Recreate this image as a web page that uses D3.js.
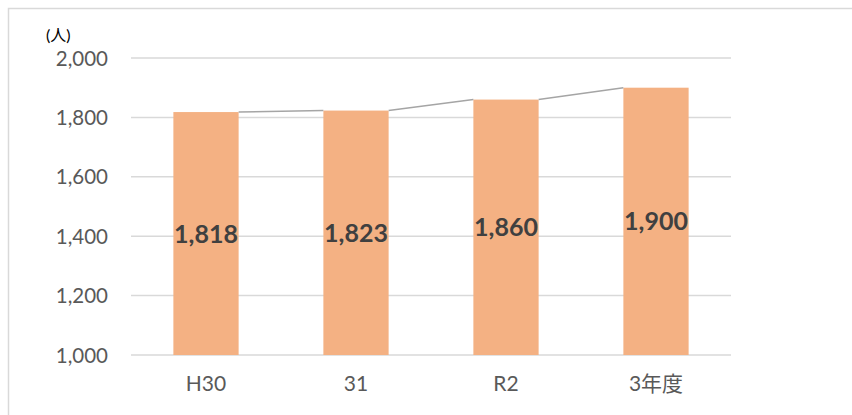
<!DOCTYPE html>
<html><head><meta charset="utf-8">
<script src="https://cdn.jsdelivr.net/npm/d3@7"></script>
<style>body{margin:0;background:#fff}svg{display:block}</style>
</head><body>
<svg id="c" width="852" height="415"></svg>
<script>
const categories = ["H30", "31", "R2", "3年度"];
const values = [1818, 1823, 1860, 1900];
const yTicks = [1000, 1200, 1400, 1600, 1800, 2000];
const unitLabel = "(人)";

const svg = d3.select("#c");
const font = "Lato, 'Noto Sans CJK JP', sans-serif";
// chart border
svg.append("rect").attr("x", 8.5).attr("y", 8.5).attr("width", 860).attr("height", 420)
  .attr("fill", "#fff").attr("stroke", "#d9d9d9").attr("stroke-width", 1.5);

const x = d3.scaleBand().domain(categories).range([131, 731]).paddingInner(0.565).paddingOuter(0.2825);
const y = d3.scaleLinear().domain([1000, 2000]).range([355, 58]);

// gridlines
svg.append("g").selectAll("line").data(yTicks).join("line")
  .attr("x1", 131).attr("x2", 731)
  .attr("y1", d => y(d)).attr("y2", d => y(d))
  .attr("stroke", "#d9d9d9").attr("stroke-width", 1.5);

// y axis labels
const yAxis = d3.axisLeft(y).tickValues(yTicks).tickFormat(d3.format(",")).tickSize(0).tickPadding(0);
const gy = svg.append("g").attr("transform", "translate(108,0)").call(yAxis);
gy.select(".domain").remove();
gy.selectAll("text").attr("font-family", font).attr("font-size", 20.5).attr("fill", "#595959").attr("dy", "0.35em");

// x axis labels
const xAxis = d3.axisBottom(x).tickSize(0).tickPadding(0);
const gx = svg.append("g").call(xAxis);
gx.select(".domain").remove();
gx.selectAll("text").attr("font-family", font).attr("font-size", 21).attr("fill", "#595959")
  .attr("y", 391).attr("dy", 0);

// bars
svg.append("g").selectAll("rect").data(values).join("rect")
  .attr("x", (d, i) => x(categories[i]))
  .attr("width", x.bandwidth())
  .attr("y", d => y(d))
  .attr("height", d => y(1000) - y(d))
  .attr("fill", "#f4b183");

// series lines (top-right of one bar to top-left of next)
const segs = values.slice(0, -1).map((d, i) => [
  [x(categories[i]) + x.bandwidth(), y(d)],
  [x(categories[i + 1]), y(values[i + 1])]
]);
svg.append("g").selectAll("line").data(segs).join("line")
  .attr("x1", d => d[0][0]).attr("y1", d => d[0][1])
  .attr("x2", d => d[1][0]).attr("y2", d => d[1][1])
  .attr("stroke", "#a5a5a5").attr("stroke-width", 1.5);

// data labels in middle of bars
svg.append("g").selectAll("text").data(values).join("text")
  .attr("x", (d, i) => x(categories[i]) + x.bandwidth() / 2)
  .attr("y", d => (y(d) + y(1000)) / 2)
  .attr("dy", "0.36em")
  .attr("text-anchor", "middle")
  .attr("font-family", font).attr("font-weight", "bold").attr("font-size", 25)
  .attr("fill", "#404040")
  .text(d => d3.format(",")(d));

// unit label
svg.append("text").attr("x", 46).attr("y", 41)
  .attr("font-family", font).attr("font-size", 16).attr("fill", "#000")
  .text(unitLabel);
</script>
</body></html>
